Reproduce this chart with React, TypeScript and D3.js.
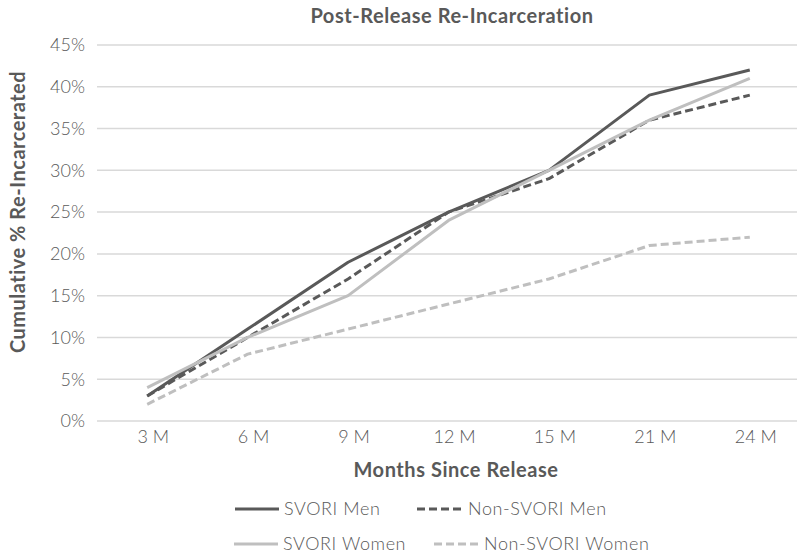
import React from "react";
import * as d3 from "d3";

const categories = ["3 M", "6 M", "9 M", "12 M", "15 M", "21 M", "24 M"];
const svoriMen = [3, 11, 19, 25, 30, 39, 42];
const nonSvoriMen = [3, 10, 17, 25, 29, 36, 39];
const svoriWomen = [4, 10, 15, 24, 30, 36, 41];
const nonSvoriWomen = [2, 8, 11, 14, 17, 21, 22];
const yTicks = [0, 5, 10, 15, 20, 25, 30, 35, 40, 45];

const W = 797;
const H = 556;
const left = 97;
const right = 800;
const top = 45;
const bottom = 421;

const DARK = "#595959";
const LIGHT = "#bfbfbf";
const FONT = "Lato, 'Open Sans', sans-serif";

const seriesList = [
  { name: "SVORI Men", values: svoriMen, color: DARK, dash: "" },
  { name: "Non-SVORI Men", values: nonSvoriMen, color: DARK, dash: "8,4" },
  { name: "SVORI Women", values: svoriWomen, color: LIGHT, dash: "" },
  { name: "Non-SVORI Women", values: nonSvoriWomen, color: LIGHT, dash: "8,4" },
];

const legendItems = [
  { s: 0, x: 235, y: 509, tx: 284 },
  { s: 1, x: 417, y: 509, tx: 468 },
  { s: 2, x: 234, y: 544, tx: 283 },
  { s: 3, x: 434, y: 544, tx: 484 },
];

export default function App() {
  const x = d3.scaleBand<string>().domain(categories).range([left, right]);
  const y = d3.scaleLinear().domain([0, 45]).range([bottom, top]);
  const cx = (c: string) => (x(c) as number) + x.bandwidth() / 2;
  const line = d3
    .line<number>()
    .x((_, i) => cx(categories[i]))
    .y((d) => y(d));

  const bold = { fontFamily: FONT, fontWeight: 700, fontSize: 20, letterSpacing: 0.55, fill: DARK };
  const light = { fontFamily: FONT, fontWeight: 300, fontSize: 18, fill: DARK };

  return (
    <svg width={W} height={H} style={{ position: "absolute", left: 0, top: 0, background: "#fff" }}>
      <text x={452} y={23} textAnchor="middle" {...bold}>
        Post-Release Re-Incarceration
      </text>
      {yTicks.map((t) => (
        <g key={t}>
          <line x1={left} x2={W} y1={y(t)} y2={y(t)} stroke="#d9d9d9" strokeWidth={1.5} />
          <text x={85} y={y(t)} dy="0.35em" textAnchor="end" {...light}>
            {t}%
          </text>
        </g>
      ))}
      {categories.map((c) => (
        <text key={c} x={cx(c) + 6} y={443} textAnchor="middle" {...light}>
          {c}
        </text>
      ))}
      <text x={456} y={477} textAnchor="middle" {...bold}>
        Months Since Release
      </text>
      <text transform={`translate(25,212) rotate(-90)`} textAnchor="middle" {...bold} letterSpacing={0.5}>
        Cumulative % Re-Incarcerated
      </text>
      {seriesList.map((s) => (
        <path
          key={s.name}
          d={line(s.values) as string}
          fill="none"
          stroke={s.color}
          strokeWidth={3}
          strokeDasharray={s.dash || undefined}
          strokeLinejoin="round"
        />
      ))}
      {legendItems.map((l) => {
        const s = seriesList[l.s];
        return (
          <g key={s.name}>
            <line x1={l.x} x2={l.tx - 5} y1={l.y} y2={l.y} stroke={s.color} strokeWidth={3} strokeDasharray={s.dash || undefined} />
            <text x={l.tx} y={l.y} dy="0.35em" {...light} letterSpacing={0.6}>
              {s.name}
            </text>
          </g>
        );
      })}
    </svg>
  );
}
